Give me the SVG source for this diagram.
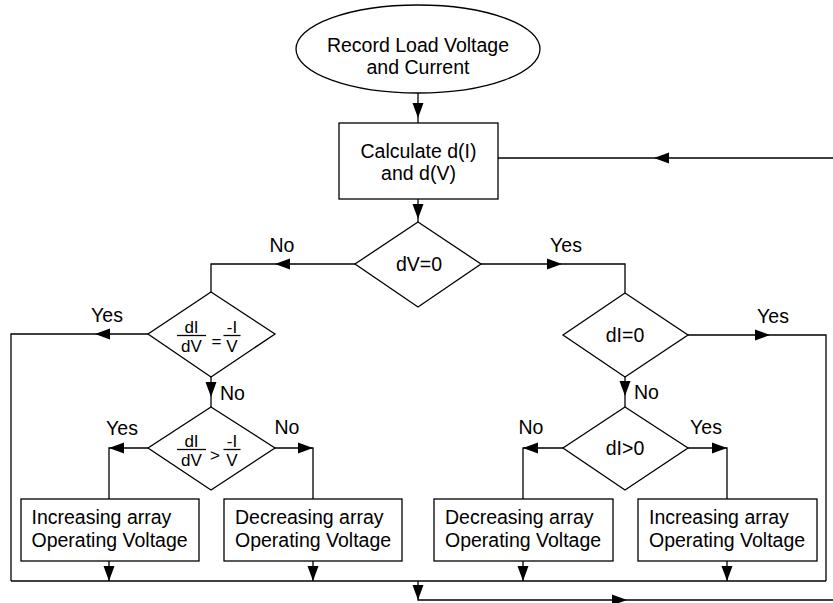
<svg xmlns="http://www.w3.org/2000/svg" xmlns:xlink="http://www.w3.org/1999/xlink" width="833" height="603" viewBox="0 0 833 603">
<style>
.s{fill:#fff;stroke:#000;stroke-width:1.3}
.c{fill:none;stroke:#000;stroke-width:1.3}
text{font-family:"Liberation Sans",Arial,sans-serif;font-size:19.5px;fill:#000}
.m{text-anchor:middle}
.f{font-size:17px}
.bar{stroke:#000;stroke-width:1.3}
</style>
<defs>
<polygon id="ah" points="0,0 -15,-5.5 -15,5.5" fill="#000"/>
</defs>
<rect width="833" height="603" fill="#fff"/>
<g id="connectors">
<path class="c" d="M418,93V123"/>
<path class="c" d="M418,199V222"/>
<path class="c" d="M355,264H211V292"/>
<path class="c" d="M481,264H625V293"/>
<path class="c" d="M148,334H11V581"/>
<path class="c" d="M211,377V407"/>
<path class="c" d="M148,448H109V499"/>
<path class="c" d="M275,448H313V499"/>
<path class="c" d="M688,335H826V581"/>
<path class="c" d="M625,377V407"/>
<path class="c" d="M563,448H523V499"/>
<path class="c" d="M688,448H727V499"/>
<path class="c" d="M109,561V581M313,561V581M523,561V581M727,561V581"/>
<path class="c" d="M11,581H826"/>
<path class="c" d="M418,581V600H833"/>
<path class="c" d="M498,158H833"/>
<use xlink:href="#ah" transform="translate(418,118) rotate(90)"/>
<use xlink:href="#ah" transform="translate(418,219) rotate(90)"/>
<use xlink:href="#ah" transform="translate(275,264) rotate(180)"/>
<use xlink:href="#ah" transform="translate(562,264)"/>
<use xlink:href="#ah" transform="translate(95,334) rotate(180)"/>
<use xlink:href="#ah" transform="translate(211,397) rotate(90)"/>
<use xlink:href="#ah" transform="translate(109,448) rotate(180)"/>
<use xlink:href="#ah" transform="translate(313,448)"/>
<use xlink:href="#ah" transform="translate(770,335)"/>
<use xlink:href="#ah" transform="translate(625,396) rotate(90)"/>
<use xlink:href="#ah" transform="translate(523,448) rotate(180)"/>
<use xlink:href="#ah" transform="translate(727,448)"/>
<use xlink:href="#ah" transform="translate(109,581) rotate(90)"/>
<use xlink:href="#ah" transform="translate(313,581) rotate(90)"/>
<use xlink:href="#ah" transform="translate(523,581) rotate(90)"/>
<use xlink:href="#ah" transform="translate(727,581) rotate(90)"/>
<use xlink:href="#ah" transform="translate(418,600) rotate(90)"/>
<use xlink:href="#ah" transform="translate(627,600)"/>
<use xlink:href="#ah" transform="translate(654,158) rotate(180)"/>
<text class="m" x="282" y="252">No</text>
<text class="m" x="566" y="252">Yes</text>
<text class="m" x="107" y="322">Yes</text>
<text x="220" y="400">No</text>
<text class="m" x="122" y="435">Yes</text>
<text class="m" x="287" y="434">No</text>
<text class="m" x="773" y="323">Yes</text>
<text x="634" y="399">No</text>
<text class="m" x="531" y="434">No</text>
<text class="m" x="706" y="434">Yes</text>
</g>
<g id="start">
<ellipse class="s" cx="418" cy="49" rx="122" ry="44"/>
<text class="m" x="418" y="52">Record Load Voltage</text>
<text class="m" x="418" y="74">and Current</text>
</g>
<g id="calc">
<rect class="s" x="339" y="123" width="159" height="76"/>
<text class="m" x="418.5" y="158">Calculate d(I)</text>
<text class="m" x="418.5" y="180">and d(V)</text>
</g>
<g id="dv0">
<polygon class="s" points="418,222 481,264 418,307 355,264"/>
<text class="m" x="419" y="271">dV=0</text>
</g>
<g id="d-eq">
<polygon class="s" points="211,292 275,334 211,377 148,334"/>
<text class="m f" x="191.5" y="333">dI</text>
<line class="bar" x1="177" y1="335.5" x2="206" y2="335.5"/>
<text class="m f" x="191.5" y="352">dV</text>
<text class="m f" x="216.5" y="347">=</text>
<text class="m f" x="232" y="333">-I</text>
<line class="bar" x1="223.5" y1="335.5" x2="240.5" y2="335.5"/>
<text class="m f" x="232" y="352">V</text>
</g>
<g id="d-gt">
<polygon class="s" points="211,407 275,448 211,490 148,448"/>
<text class="m f" x="191.5" y="447">dI</text>
<line class="bar" x1="177" y1="449.5" x2="206" y2="449.5"/>
<text class="m f" x="191.5" y="466">dV</text>
<text class="m f" x="215" y="461">&gt;</text>
<text class="m f" x="232" y="447">-I</text>
<line class="bar" x1="223.5" y1="449.5" x2="240.5" y2="449.5"/>
<text class="m f" x="232" y="466">V</text>
</g>
<g id="di0">
<polygon class="s" points="625,293 688,335 625,377 563,335"/>
<text class="m" x="625" y="342">dI=0</text>
</g>
<g id="digt0">
<polygon class="s" points="625,407 688,448 625,490 563,448"/>
<text class="m" x="625" y="455">dI&gt;0</text>
</g>
<g id="inc-left">
<rect class="s" x="21" y="499" width="178" height="62"/>
<text x="31.5" y="524">Increasing array</text>
<text x="31.5" y="547">Operating Voltage</text>
</g>
<g id="dec-left">
<rect class="s" x="224" y="499" width="178" height="62"/>
<text x="235" y="524">Decreasing array</text>
<text x="235" y="547">Operating Voltage</text>
</g>
<g id="dec-right">
<rect class="s" x="434" y="499" width="179" height="62"/>
<text x="445" y="524">Decreasing array</text>
<text x="445" y="547">Operating Voltage</text>
</g>
<g id="inc-right">
<rect class="s" x="638" y="499" width="179" height="62"/>
<text x="649" y="524">Increasing array</text>
<text x="649" y="547">Operating Voltage</text>
</g>
</svg>
